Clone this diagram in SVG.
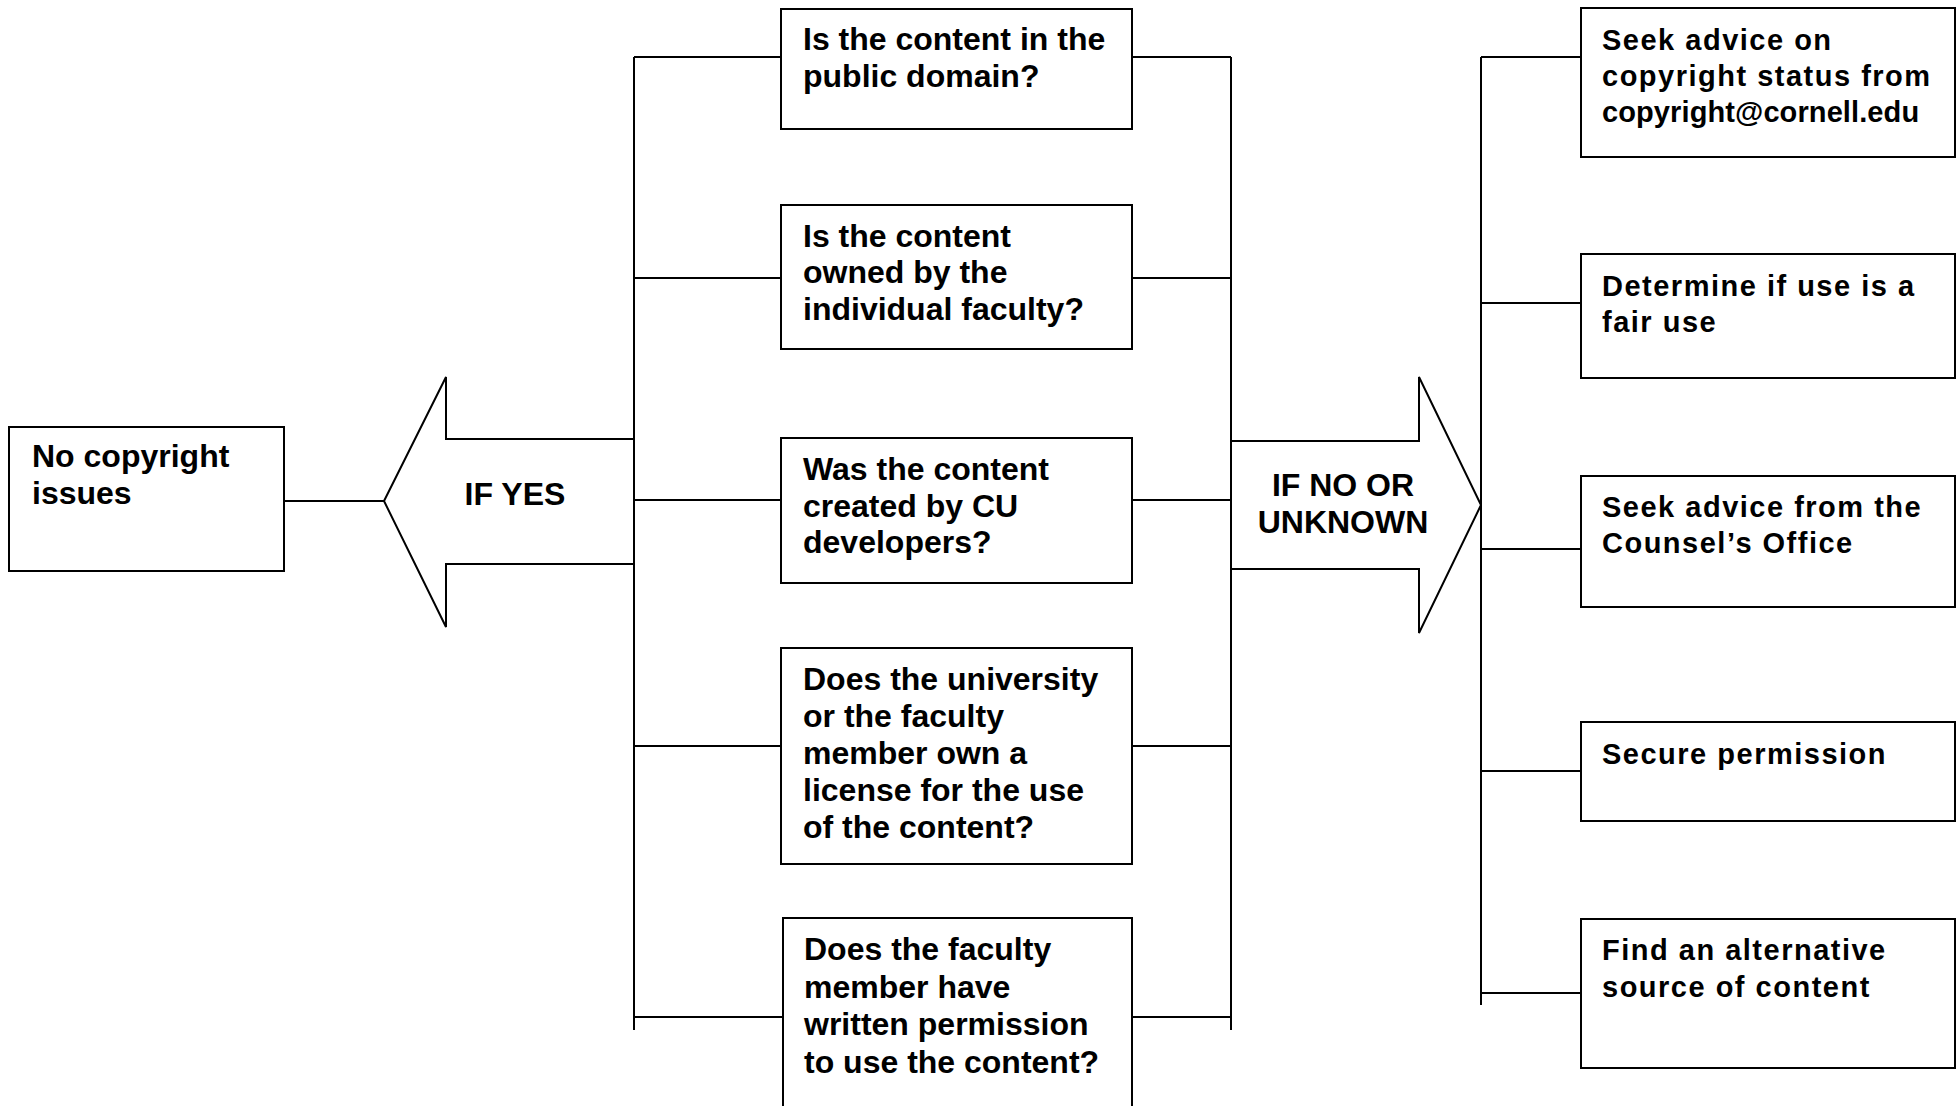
<svg xmlns="http://www.w3.org/2000/svg" width="1956" height="1106" viewBox="0 0 1956 1106">
<style>
.box{fill:#fff;stroke:#000;stroke-width:2}
.arr{fill:#fff;stroke:#000;stroke-width:2;stroke-linejoin:miter}
.ln{stroke:#000;stroke-width:2;fill:none}
.t{font-family:"Liberation Sans",Arial,sans-serif;font-weight:bold;font-size:32px;fill:#000}
.r{font-size:29px;letter-spacing:1.5px}
.m{text-anchor:middle}
</style>
<rect width="1956" height="1106" fill="#fff"/>
<g id="if-yes">
<polygon class="arr" points="634,439 446,439 446,377 384,501 446,627 446,564 634,564"/>
<text class="t m" x="515" y="505">IF YES</text>
</g>
<g id="if-no-or-unknown">
<polygon class="arr" points="1231,441 1419,441 1419,377 1481,505 1419,633 1419,569 1231,569"/>
<text class="t m" x="1343" y="496">IF NO OR</text>
<text class="t m" x="1343" y="533">UNKNOWN</text>
</g>
<g id="connectors">
<line class="ln" x1="284" y1="501" x2="384" y2="501"/>
<line class="ln" x1="634" y1="57" x2="634" y2="1030"/>
<line class="ln" x1="634" y1="57" x2="781" y2="57"/>
<line class="ln" x1="634" y1="278" x2="781" y2="278"/>
<line class="ln" x1="634" y1="500" x2="781" y2="500"/>
<line class="ln" x1="634" y1="746" x2="781" y2="746"/>
<line class="ln" x1="634" y1="1017" x2="783" y2="1017"/>
<line class="ln" x1="1231" y1="57" x2="1231" y2="1030"/>
<line class="ln" x1="1132" y1="57" x2="1231" y2="57"/>
<line class="ln" x1="1132" y1="278" x2="1231" y2="278"/>
<line class="ln" x1="1132" y1="500" x2="1231" y2="500"/>
<line class="ln" x1="1132" y1="746" x2="1231" y2="746"/>
<line class="ln" x1="1132" y1="1017" x2="1231" y2="1017"/>
<line class="ln" x1="1481" y1="57" x2="1481" y2="1005"/>
<line class="ln" x1="1481" y1="57" x2="1581" y2="57"/>
<line class="ln" x1="1481" y1="303" x2="1581" y2="303"/>
<line class="ln" x1="1481" y1="549" x2="1581" y2="549"/>
<line class="ln" x1="1481" y1="771" x2="1581" y2="771"/>
<line class="ln" x1="1481" y1="993" x2="1581" y2="993"/>
</g>
<g id="no-copyright">
<rect class="box" x="9" y="427" width="275" height="144"/>
<text class="t" x="32" y="467">No copyright</text>
<text class="t" x="32" y="503.5">issues</text>
</g>
<g id="q-public-domain">
<rect class="box" x="781" y="9" width="351" height="120"/>
<text class="t" x="803" y="50">Is the content in the</text>
<text class="t" x="803" y="86.5">public domain?</text>
</g>
<g id="q-owned-faculty">
<rect class="box" x="781" y="205" width="351" height="144"/>
<text class="t" x="803" y="246.5">Is the content</text>
<text class="t" x="803" y="283">owned by the</text>
<text class="t" x="803" y="320">individual faculty?</text>
</g>
<g id="q-cu-developers">
<rect class="box" x="781" y="438" width="351" height="145"/>
<text class="t" x="803" y="480">Was the content</text>
<text class="t" x="803" y="516.7">created by CU</text>
<text class="t" x="803" y="553">developers?</text>
</g>
<g id="q-license">
<rect class="box" x="781" y="648" width="351" height="216"/>
<text class="t" x="803" y="690">Does the university</text>
<text class="t" x="803" y="727">or the faculty</text>
<text class="t" x="803" y="764">member own a</text>
<text class="t" x="803" y="801">license for the use</text>
<text class="t" x="803" y="838">of the content?</text>
</g>
<g id="q-written-permission">
<rect class="box" x="783" y="918" width="349" height="220"/>
<text class="t" x="804" y="960">Does the faculty</text>
<text class="t" x="804" y="997.5">member have</text>
<text class="t" x="804" y="1035">written permission</text>
<text class="t" x="804" y="1072.5">to use the content?</text>
</g>
<g id="a-seek-advice-copyright">
<rect class="box" x="1581" y="8" width="374" height="149"/>
<text class="t r" x="1602" y="50">Seek advice on</text>
<text class="t r" x="1602" y="86">copyright status from</text>
<text class="t r" x="1602" y="122" style="letter-spacing:0.1px">copyright@cornell.edu</text>
</g>
<g id="a-fair-use">
<rect class="box" x="1581" y="254" width="374" height="124"/>
<text class="t r" x="1602" y="296">Determine if use is a</text>
<text class="t r" x="1602" y="332">fair use</text>
</g>
<g id="a-counsel">
<rect class="box" x="1581" y="476" width="374" height="131"/>
<text class="t r" x="1602" y="517">Seek advice from the</text>
<text class="t r" x="1602" y="553">Counsel’s Office</text>
</g>
<g id="a-secure-permission">
<rect class="box" x="1581" y="722" width="374" height="99"/>
<text class="t r" x="1602" y="764">Secure permission</text>
</g>
<g id="a-alternative">
<rect class="box" x="1581" y="919" width="374" height="149"/>
<text class="t r" x="1602" y="960">Find an alternative</text>
<text class="t r" x="1602" y="996.5">source of content</text>
</g>
</svg>
